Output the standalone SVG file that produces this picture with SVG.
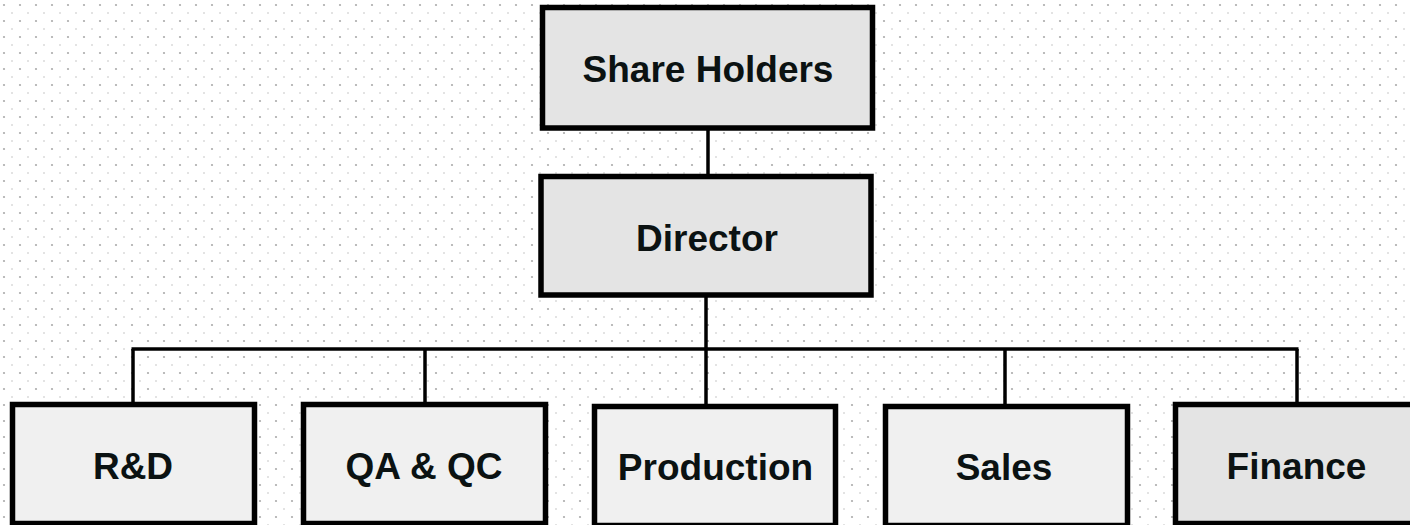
<svg xmlns="http://www.w3.org/2000/svg" width="1410" height="525" viewBox="0 0 1410 525">
  <defs>
    <pattern id="dots" patternUnits="userSpaceOnUse" x="0" y="0" width="16" height="16">
      <rect width="16" height="16" fill="#ffffff"/>
      <circle cx="4" cy="5" r="1.1" fill="#ababab"/>
      <rect x="11" y="12.5" width="2" height="1" fill="#c8c8c8"/>
    </pattern>
  </defs>
  <style>
    .box { stroke: #000; stroke-width: 5.5; }
    .dark { fill: #e4e4e4; }
    .light { fill: #f0f0f0; }
    .lbl { font-family: "Liberation Sans", Arial, sans-serif; font-weight: bold; font-size: 37px; fill: #0b1212; text-anchor: middle; }
    .conn { stroke: #000; stroke-width: 3.5; fill: none; }
  </style>
  <rect width="1410" height="525" fill="url(#dots)"/>

  <g id="connectors">
    <line class="conn" x1="708" y1="128" x2="708" y2="176"/>
    <line class="conn" x1="706" y1="295" x2="706" y2="349"/>
    <line class="conn" x1="131.5" y1="349" x2="1298.5" y2="349"/>
    <line class="conn" x1="133" y1="349" x2="133" y2="403"/>
    <line class="conn" x1="425" y1="349" x2="425" y2="403"/>
    <line class="conn" x1="706" y1="349" x2="706" y2="405"/>
    <line class="conn" x1="1005" y1="349" x2="1005" y2="405"/>
    <line class="conn" x1="1297" y1="349" x2="1297" y2="403"/>
  </g>

  <g id="share-holders">
    <rect class="box dark" x="542.5" y="7.5" width="330" height="120.5"/>
    <text class="lbl" x="708" y="82">Share Holders</text>
  </g>
  <g id="director">
    <rect class="box dark" x="541" y="176.5" width="330" height="118.5"/>
    <text class="lbl" x="707" y="250.5">Director</text>
  </g>
  <g id="rnd">
    <rect class="box light" x="12.5" y="404.5" width="242" height="119"/>
    <text class="lbl" x="133" y="478.5">R&amp;D</text>
  </g>
  <g id="qa-qc">
    <rect class="box light" x="303.5" y="404.5" width="242" height="119"/>
    <text class="lbl" x="424" y="478.5">QA &amp; QC</text>
  </g>
  <g id="production">
    <rect class="box light" x="594.5" y="406.5" width="241" height="119"/>
    <text class="lbl" x="715.5" y="480">Production</text>
  </g>
  <g id="sales">
    <rect class="box light" x="885.5" y="406.5" width="242" height="119"/>
    <text class="lbl" x="1004" y="480">Sales</text>
  </g>
  <g id="finance">
    <rect class="box dark" x="1175.5" y="404.5" width="242" height="119"/>
    <text class="lbl" x="1296.5" y="478.5">Finance</text>
  </g>
</svg>
